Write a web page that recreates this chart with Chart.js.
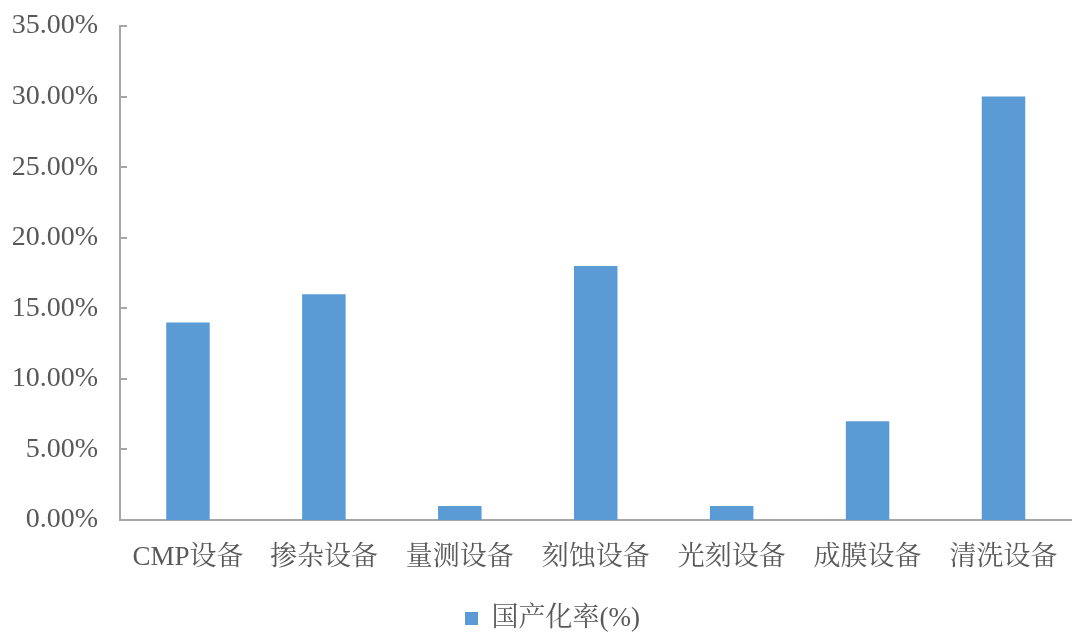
<!DOCTYPE html>
<html lang="zh">
<head>
  <meta charset="UTF-8" />
  <title>国产化率</title>
  <script src="https://cdn.jsdelivr.net/npm/chart.js"></script>
  <style>
    * { box-sizing: border-box; }
    html, body { margin: 0; padding: 0; background: #fff; overflow: hidden; }
    /* pulled up a little so the plot top sits where the original does */
    #wrap { width: 1080px; height: 652px; position: relative; margin-top: -10px; }
  </style>
</head>
<body>
  <div id="wrap"><canvas id="c"></canvas></div>
  <script>
    const categories = ['CMP设备', '掺杂设备', '量测设备', '刻蚀设备', '光刻设备', '成膜设备', '清洗设备'];
    const rates = [14, 16, 1, 18, 1, 7, 30];
    const seriesName = '国产化率(%)';

    const FONT = "'Liberation Serif', 'Noto Serif CJK SC', 'Noto Sans CJK SC', serif";
    const AXIS = '#a6a6a6';
    const TEXT = '#595959';

    // small tick marks pointing into the plot on the y axis
    const innerTicks = {
      id: 'innerTicks',
      afterLayout(chart) {
        // legend sits a bit right of centre in the original
        chart.legend.left += 16;
        chart.legend.right += 16;
      },
      afterDraw(chart) {
        const y = chart.scales.y;
        const c = chart.ctx;
        c.save();
        c.strokeStyle = AXIS;
        c.lineWidth = 2;
        y.ticks.forEach((t, i) => {
          const py = Math.round(y.getPixelForTick(i));
          c.beginPath();
          c.moveTo(y.right, py);
          c.lineTo(y.right + 7, py);
          c.stroke();
        });
        c.restore();
      }
    };

    new Chart(document.getElementById('c'), {
      type: 'bar',
      data: {
        labels: categories,
        datasets: [{
          label: seriesName,
          data: rates,
          backgroundColor: '#5b9bd5',
          categoryPercentage: 1,
          barPercentage: 0.32
        }]
      },
      options: {
        responsive: true,
        maintainAspectRatio: false,
        animation: false,
        layout: { padding: { top: 0, right: 7, left: 0, bottom: 0 } },
        scales: {
          x: {
            grid: { display: false, drawTicks: false },
            border: { color: AXIS, width: 2 },
            ticks: { color: TEXT, font: { family: FONT, size: 27 }, padding: 22, maxRotation: 0 },
            afterFit(s) { s.height = 71; }
          },
          y: {
            min: 0,
            max: 35,
            grid: { display: false, drawTicks: false },
            border: { color: AXIS, width: 2 },
            ticks: {
              stepSize: 5,
              color: TEXT,
              padding: 22,
              font: { family: FONT, size: 28, lineHeight: 1 },
              callback: v => v.toFixed(2) + '%'
            },
            afterFit(s) { s.width = 120; }
          }
        },
        plugins: {
          legend: {
            position: 'bottom',
            labels: {
              color: TEXT,
              font: { family: FONT, size: 27 },
              boxWidth: 13,
              boxHeight: 13,
              padding: 14
            }
          },
          tooltip: { enabled: false }
        }
      },
      plugins: [innerTicks]
    });
  </script>
</body>
</html>
